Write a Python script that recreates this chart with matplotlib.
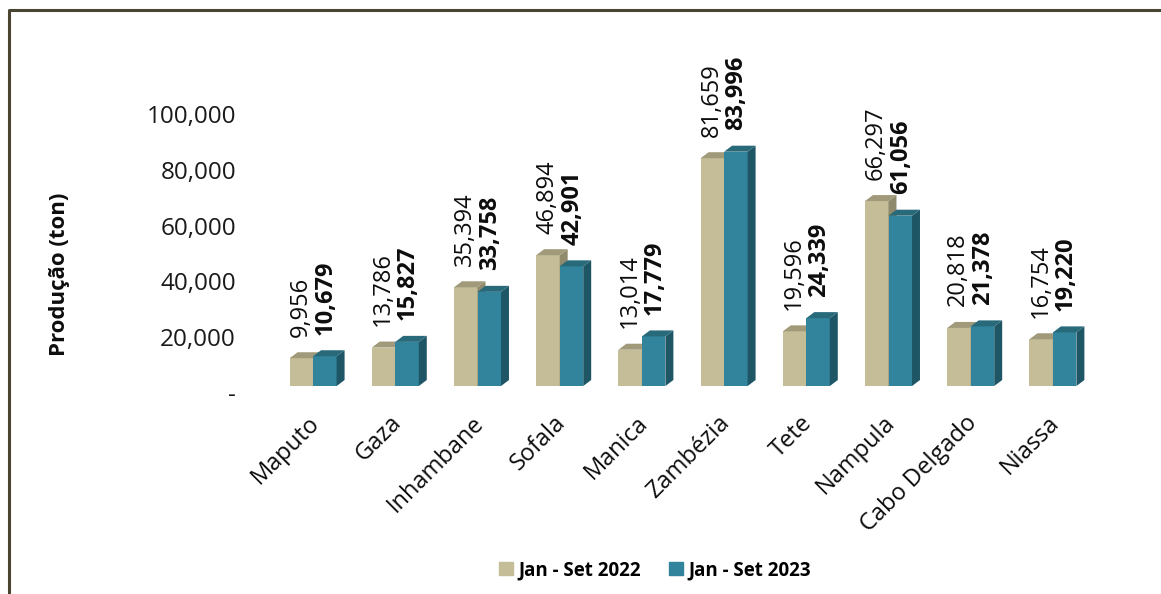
import matplotlib
matplotlib.use("Agg")
import matplotlib.pyplot as plt
import matplotlib.transforms as mtransforms
from matplotlib.lines import Line2D
from matplotlib.patches import Patch
from matplotlib.ticker import FuncFormatter

plt.rcParams["font.family"] = ["Open Sans", "DejaVu Sans"]

provinces = ["Maputo", "Gaza", "Inhambane", "Sofala", "Manica", "Zambézia",
             "Tete", "Nampula", "Cabo Delgado", "Niassa"]
prod_2022 = [9956, 13786, 35394, 46894, 13014, 81659, 19596, 66297, 20818, 16754]
prod_2023 = [10679, 15827, 33758, 42901, 17779, 83996, 24339, 61056, 21378, 19220]
series_names = ["Jan - Set 2022", "Jan - Set 2023"]
y_ticks = [0, 20000, 40000, 60000, 80000, 100000]

# colours: front, side, top
TAN = ("#c4bd97", "#8f8a6c", "#a09a7a")
TEAL = ("#31849b", "#1f5666", "#28697a")

BAR_W = 0.286
DX = 0.097      # 3d depth, category units
DY = 2150       # 3d depth, data units
BASE = 2500     # floor lift of the 3d chart


def bar3d(ax, x, h, cols):
    x0, x1 = x - BAR_W / 2, x + BAR_W / 2
    top = BASE + h
    ax.bar(x, h, BAR_W, bottom=BASE, color=cols[0], zorder=2)
    ax.fill([x1, x1 + DX, x1 + DX, x1], [BASE, BASE + DY, top + DY, top],
            color=cols[1], lw=0, zorder=2)
    ax.fill([x0, x1, x1 + DX, x0 + DX], [top, top, top + DY, top + DY],
            color=cols[2], lw=0, zorder=2)


fig = plt.figure(figsize=(11.61, 5.94), dpi=100)
ax = fig.add_axes([272 / 1161, 1 - 393 / 594, 822 / 1161, 373 / 594])

for i, (a, b) in enumerate(zip(prod_2022, prod_2023)):
    bar3d(ax, i - BAR_W / 2, a, TAN)
    bar3d(ax, i + BAR_W / 2, b, TEAL)
    ax.annotate(f"{a:,}", (i - BAR_W / 2, a + BASE), xytext=(-0.5, 15.5),
                textcoords="offset points", rotation=90, ha="center", va="bottom",
                fontsize=17, color="#0d0d0d")
    ax.annotate(f"{b:,}", (i + BAR_W / 2, b + BASE), xytext=(0.5, 15.5),
                textcoords="offset points", rotation=90, ha="center", va="bottom",
                fontsize=17, fontweight="bold", color="#0d0d0d")

ax.set_xlim(-0.5, len(provinces) - 0.5)
ax.set_ylim(0, 133700)
ax.set_yticks(y_ticks)
ax.yaxis.set_major_formatter(FuncFormatter(lambda v, _: "-" if v == 0 else f"{v:,.0f}"))
ax.tick_params(axis="y", length=0, pad=26, labelsize=17.5, labelcolor="#1a1a1a")
ax.set_xticks(range(len(provinces)))
ax.set_xticklabels(provinces)
ax.tick_params(axis="x", length=0, pad=13, labelsize=17, labelcolor="#0d0d0d")
shift = mtransforms.ScaledTranslation(-6 / 100, 0, fig.dpi_scale_trans)
for lab in ax.get_xticklabels():
    lab.set_rotation(45)
    lab.set_ha("right")
    lab.set_rotation_mode("anchor")
    lab.set_transform(lab.get_transform() + shift)
for s in ax.spines.values():
    s.set_visible(False)

fig.text(59 / 1161, 1 - 274 / 594, "Produção (ton)", rotation=90, ha="center",
         va="center", fontsize=16, fontweight="bold", color="#0d0d0d")

handles = [Patch(color=TAN[0]), Patch(color=TEAL[0])]
fig.legend(handles, series_names, loc="center", bbox_to_anchor=(655 / 1161, 1 - 570 / 594),
           ncol=2, frameon=False, handlelength=0.75, handleheight=0.75, handletextpad=0.3,
           columnspacing=1.5, prop={"size": 13.5, "weight": "bold"})

# frame of the original chart box
fig.add_artist(Line2D([9 / 1161, 9 / 1161, 1], [0, 1 - 10 / 594, 1 - 10 / 594],
                      transform=fig.transFigure, color="#4a4530", lw=2.2))

fig.savefig("out.png", dpi=100)
